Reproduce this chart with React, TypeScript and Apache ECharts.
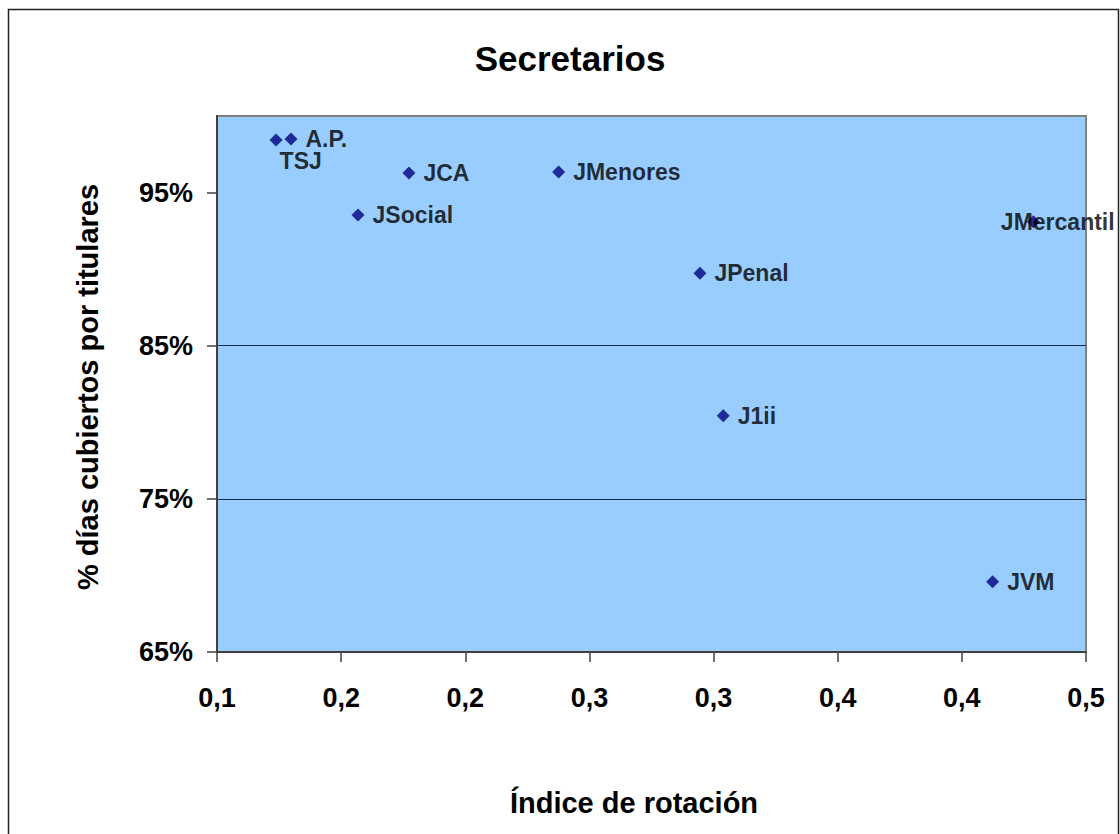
import React, { useEffect, useRef } from "react";
import * as echarts from "echarts";

const titleText = "Secretarios";
const xAxisName = "Índice de rotación";
const yAxisName = "% días cubiertos por titulares";

const categories = ["TSJ", "A.P.", "JCA", "JMenores", "JSocial", "JPenal", "J1ii", "JVM", "JMercantil"];
const xValues = [0.1238, 0.1298, 0.1773, 0.2376, 0.1568, 0.2945, 0.3039, 0.4124, 0.4288];
const yValues = [98.43, 98.5, 96.28, 96.34, 93.54, 89.73, 80.43, 69.59, 93.1];

const xMin = 0.1;
const xMax = 0.45;
const xStep = 0.05;
const xTickLabels = ["0,1", "0,2", "0,2", "0,3", "0,3", "0,4", "0,4", "0,5"];

const yMin = 65;
const yMax = 100;
const yStep = 10;
const yTickValues = [65, 75, 85, 95];
const yTickLabels = ["65%", "75%", "85%", "95%"];

const FONT = 'Arial, "Liberation Sans", sans-serif';

const labelShifts: Record<string, [number, number]> = {
  TSJ: [-11, 21],
  JMercantil: [-47, 0],
};

export default function App() {
  const ref = useRef<HTMLDivElement>(null);

  useEffect(() => {
    if (!ref.current) return;
    const chart = echarts.init(ref.current, undefined, { renderer: "svg" });

    const data = categories.map((name, i) => ({ name, value: [xValues[i], yValues[i]] }));

    chart.setOption({
      animation: false,
      backgroundColor: "#ffffff",
      title: {
        text: titleText,
        left: 565,
        top: 36,
        textAlign: "center",
        textStyle: { fontFamily: FONT, fontSize: 35, fontWeight: "bold", color: "#000" },
      },
      grid: {
        left: 217,
        top: 116,
        width: 869,
        height: 536,
        show: true,
        backgroundColor: "#99CCFF",
        borderColor: "#808080",
        borderWidth: 2,
      },
      xAxis: {
        type: "value",
        min: xMin,
        max: xMax,
        interval: xStep,
        axisLine: { show: true, onZero: false, lineStyle: { color: "#404040", width: 2 } },
        axisTick: { show: true, inside: false, length: 10, lineStyle: { color: "#404040", width: 1.5 } },
        splitLine: { show: false },
        axisLabel: {
          margin: 32,
          fontFamily: FONT,
          fontSize: 27,
          fontWeight: "bold",
          color: "#000",
          formatter: (v: number) => {
            const idx = Math.round((v - xMin) / xStep);
            return xTickLabels[idx] ?? "";
          },
        },
      },
      yAxis: {
        type: "value",
        min: yMin,
        max: yMax,
        interval: yStep,
        axisLine: { show: true, onZero: false, lineStyle: { color: "#404040", width: 2 } },
        axisTick: {
          show: true,
          inside: false,
          length: 10,
          customValues: yTickValues,
          lineStyle: { color: "#404040", width: 1.5 },
        },
        splitLine: {
          show: true,
          showMinLine: false,
          showMaxLine: false,
          lineStyle: { color: "#1a2a40", width: 1 },
        },
        axisLabel: {
          margin: 24,
          fontFamily: FONT,
          fontSize: 27,
          fontWeight: "bold",
          color: "#000",
          customValues: yTickValues,
          formatter: (v: number) => {
            const idx = yTickValues.indexOf(Math.round(v));
            return idx >= 0 ? yTickLabels[idx] : "";
          },
        },
      },
      graphic: [
        {
          type: "rect",
          silent: true,
          shape: { x: 8.5, y: 9.5, width: 1110, height: 900 },
          style: { fill: "none", stroke: "#222", lineWidth: 1.5 },
          z: 100,
        },
        {
          type: "text",
          x: 634,
          y: 803,
          style: {
            text: xAxisName,
            fontFamily: FONT,
            fontSize: 29,
            fontWeight: "bold",
            fill: "#000",
            align: "center",
            verticalAlign: "middle",
          },
        },
        {
          type: "text",
          x: 88,
          y: 387,
          rotation: Math.PI / 2,
          style: {
            text: yAxisName,
            fontFamily: FONT,
            fontSize: 29,
            fontWeight: "bold",
            fill: "#000",
            align: "center",
            verticalAlign: "middle",
          },
        },
      ],
      series: [
        {
          type: "scatter",
          symbol: "diamond",
          symbolSize: 13,
          itemStyle: { color: "#000080" },
          data,
          label: {
            show: true,
            position: "right",
            distance: 8,
            formatter: (p: any) => p.name,
            fontFamily: FONT,
            fontSize: 23,
            fontWeight: "bold",
            color: "#000",
          },
          labelLayout: (params: any) => {
            const name = categories[params.dataIndex];
            const s = labelShifts[name];
            return s ? { dx: s[0], dy: s[1], hideOverlap: false } : { hideOverlap: false };
          },
        },
      ],
    });

    return () => chart.dispose();
  }, []);

  return (
    <div
      ref={ref}
      style={{ position: "absolute", left: 0, top: 0, width: 1120, height: 834 }}
    />
  );
}
